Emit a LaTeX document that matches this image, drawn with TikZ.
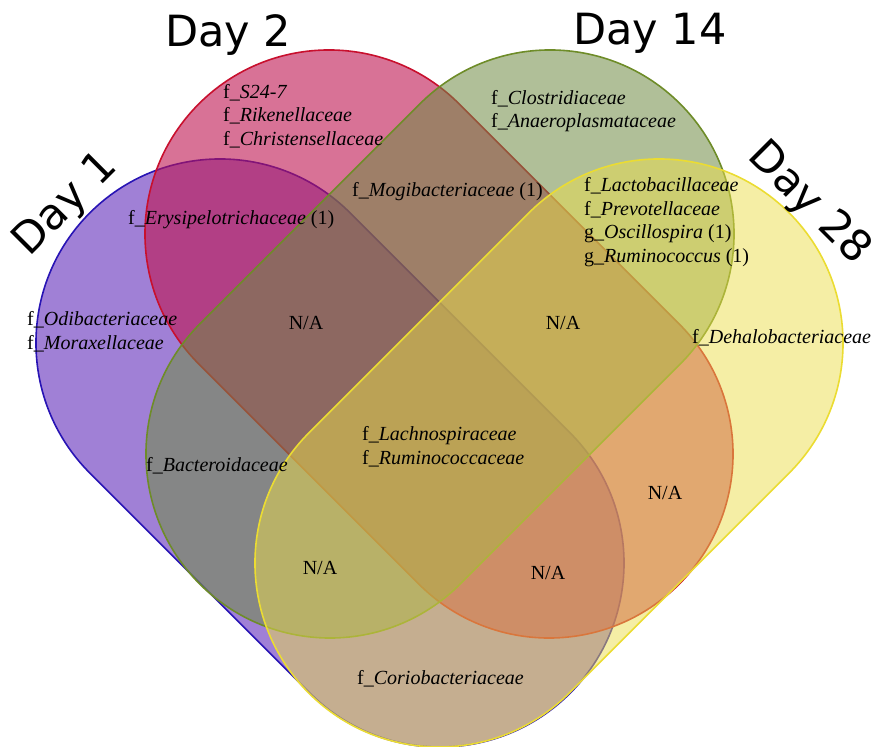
\documentclass[tikz,border=0pt]{standalone}
\usepackage{fontspec}
\setmainfont{Liberation Serif}
\newfontfamily\daysans{DejaVu Sans}
\usetikzlibrary{positioning}

\definecolor{fillone}{RGB}{97,43,187}
\definecolor{lineone}{RGB}{40,20,180}
\definecolor{filltwo}{RGB}{190,20,80}
\definecolor{linetwo}{RGB}{200,16,46}
\definecolor{fillfourteen}{RGB}{111,139,68}
\definecolor{linefourteen}{RGB}{110,140,40}
\definecolor{filltwentyeight}{RGB}{235,221,75}
\definecolor{linetwentyeight}{RGB}{235,220,50}

\begin{document}
\begin{tikzpicture}[
    x=1pt, y=1pt,
    set/.style={line width=1.6pt},
    daylabel/.style={font=\daysans\fontsize{43}{43}\selectfont, inner sep=0pt},
    family/.style={font=\fontsize{20}{23.5}\selectfont, align=left, anchor=west, inner sep=0pt},
    na/.style={font=\fontsize{20}{23.5}\selectfont, inner sep=0pt},
]
\useasboundingbox (0,0) rectangle (876,747);

% Sets
\foreach \cx/\cy/\ang/\op/\s in {330/294/-45/0.6/one, 439/403/-45/0.6/two, 440/403/45/0.55/fourteen, 549/294/45/0.5/twentyeight}
  \draw[set, draw=line\s, fill=fill\s, fill opacity=\op, shift={(\cx,\cy)}, rotate=\ang]
    (-155.6,-184) -- (155.6,-184) arc[start angle=-90, end angle=90, radius=184]
    -- (-155.6,184) arc[start angle=90, end angle=270, radius=184] -- cycle;

% Set names
\node[daylabel, rotate=45] (day1) at (66,542) {Day 1};
\node[daylabel] (day2) at (228,712) {Day 2};
\node[daylabel] (day14) at (650,714) {Day 14};
\node[daylabel, rotate=-45] (day28) at (809,543) {Day 28};

% Regions
\node[family] (onlytwo) at (223,631) {f\_\textit{S24-7}\\ f\_\textit{Rikenellaceae}\\ f\_\textit{Christensellaceae}};
\node[family] (onlyfourteen) at (491,636) {f\_\textit{Clostridiaceae}\\ f\_\textit{Anaeroplasmataceae}};
\node[family] (onetwo) at (128,527) {f\_\textit{Erysipelotrichaceae} (1)};
\node[family] (twofourteen) at (352,555) {f\_\textit{Mogibacteriaceae} (1)};
\node[family] (fourteentwentyeight) at (584,525) {f\_\textit{Lactobacillaceae}\\ f\_\textit{Prevotellaceae}\\ g\_\textit{Oscillospira} (1)\\ g\_\textit{Ruminococcus} (1)};
\node[family] (onlyone) at (27,415) {f\_\textit{Odibacteriaceae}\\ f\_\textit{Moraxellaceae}};
\node[na] (onetwofourteen) at (306,424) {N/A};
\node[na] (twofourteentwentyeight) at (563,424) {N/A};
\node[family] (onlytwentyeight) at (692,409) {f\_\textit{Dehalobacteriaceae}};
\node[family] (allfour) at (362,300) {f\_\textit{Lachnospiraceae}\\ f\_\textit{Ruminococcaceae}};
\node[family] (onefourteen) at (146,281) {f\_\textit{Bacteroidaceae}};
\node[na] (twotwentyeight) at (665,254) {N/A};
\node[na] (onefourteentwentyeight) at (320,179) {N/A};
\node[na] (onetwotwentyeight) at (548,174) {N/A};
\node[family] (onetwentyeight) at (357,68) {f\_\textit{Coriobacteriaceae}};

\end{tikzpicture}
\end{document}
